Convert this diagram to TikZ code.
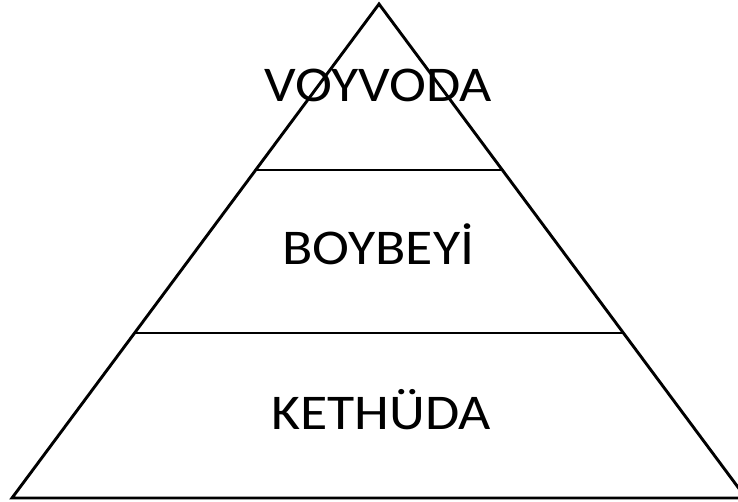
\documentclass[tikz,border=0pt]{standalone}
\usepackage{fontspec}
\setmainfont{Carlito}
\begin{document}
\begin{tikzpicture}[x=1pt,y=-1pt,
  edge/.style={draw=black,line width=2.9pt,line join=miter},
  lbl/.style={anchor=base,inner sep=0pt,font=\fontsize{50}{50}\selectfont,xscale=1.115}]
\useasboundingbox (0,0) rectangle (738,502);
\coordinate (apex) at (379,4);
\coordinate (bl) at (12,498);
\coordinate (br) at (746,498);
\path (apex) -- (bl) coordinate[pos=0.336] (l1) coordinate[pos=0.666] (l2);
\path (apex) -- (br) coordinate[pos=0.336] (r1) coordinate[pos=0.666] (r2);
\draw[edge] (bl) -- (apex) -- (br) -- cycle;
\draw[edge] (l1) -- (r1);
\draw[edge] (l2) -- (r2);
\node[lbl] (voy) at (378.5,102) {VOYVODA};
\node[lbl] (boy) at (378.5,265) {BOYBEYİ};
\node[lbl] (ket) at (381,429) {KETHÜDA};
\end{tikzpicture}
\end{document}
